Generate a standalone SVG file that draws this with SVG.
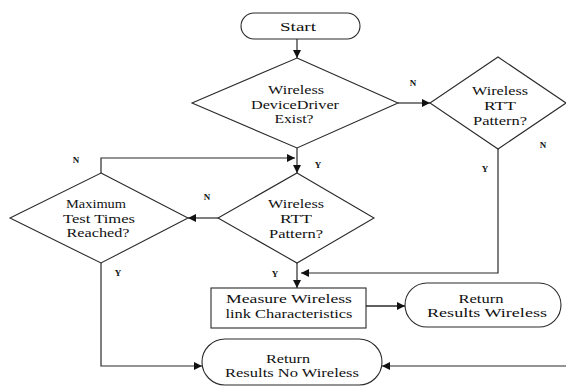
<svg xmlns="http://www.w3.org/2000/svg" width="566" height="387" viewBox="0 0 566 387" font-family="Liberation Serif, Times New Roman, serif">
  <style>
    .shape { fill: #ffffff; stroke: #2a2a2a; stroke-width: 1.1; }
    .edge { fill: none; stroke: #2a2a2a; stroke-width: 1.2; }
    .lbl { font-size: 13px; fill: #111; text-anchor: middle; }
    .yn { font-size: 9px; font-weight: bold; fill: #111; text-anchor: middle; }
  </style>
  <defs>
    <marker id="arrow" viewBox="0 0 10 10" refX="10" refY="5" markerWidth="8" markerHeight="8" markerUnits="userSpaceOnUse" orient="auto">
      <path d="M0,0 L10,5 L0,10 z" fill="#111"/>
    </marker>
  </defs>
  <rect width="566" height="387" fill="#ffffff"/>

  <g id="connectors">
    <path class="edge" d="M297,39 V58" marker-end="url(#arrow)"/>
    <path class="edge" d="M297,148 V173" marker-end="url(#arrow)"/>
    <path class="edge" d="M101,173 V158 H295" marker-end="url(#arrow)"/>
    <path class="edge" d="M398,103 H430" marker-end="url(#arrow)"/>
    <path class="edge" d="M498,149 V273 H301" marker-end="url(#arrow)"/>
    <path class="edge" d="M297,263 V288" marker-end="url(#arrow)"/>
    <path class="edge" d="M218,218 H188" marker-end="url(#arrow)"/>
    <path class="edge" d="M366,306 H405" marker-end="url(#arrow)" style="stroke-width:1.6"/>
    <path class="edge" d="M101,263 V366 H202" marker-end="url(#arrow)"/>
    <path class="edge" d="M566,366 H382" marker-end="url(#arrow)"/>
    <text class="yn" x="318" y="168">Y</text>
    <text class="yn" x="413" y="86">N</text>
    <text class="yn" x="543" y="148">N</text>
    <text class="yn" x="485" y="172">Y</text>
    <text class="yn" x="76" y="163">N</text>
    <text class="yn" x="207" y="200">N</text>
    <text class="yn" x="275" y="277">Y</text>
    <text class="yn" x="118" y="276">Y</text>
  </g>

  <g id="start">
    <rect class="shape" x="241" y="13" width="119" height="26" rx="13" ry="13"/>
    <text class="lbl" x="298" y="31" textLength="36" lengthAdjust="spacingAndGlyphs">Start</text>
  </g>

  <g id="driver-exist">
    <polygon class="shape" points="297,58 398,103 297,148 192,103"/>
    <text class="lbl" x="296" y="94" textLength="56" lengthAdjust="spacingAndGlyphs">Wireless</text>
    <text class="lbl" x="295" y="109" textLength="88" lengthAdjust="spacingAndGlyphs">DeviceDriver</text>
    <text class="lbl" x="294" y="123" textLength="39" lengthAdjust="spacingAndGlyphs">Exist?</text>
  </g>

  <g id="rtt-pattern-right">
    <polygon class="shape" points="498,57 566,103 498,149 430,103"/>
    <text class="lbl" x="500" y="95" textLength="56" lengthAdjust="spacingAndGlyphs">Wireless</text>
    <text class="lbl" x="500" y="110" textLength="32" lengthAdjust="spacingAndGlyphs">RTT</text>
    <text class="lbl" x="500" y="125" textLength="54" lengthAdjust="spacingAndGlyphs">Pattern?</text>
  </g>

  <g id="rtt-pattern">
    <polygon class="shape" points="297,173 374,218 297,263 218,218"/>
    <text class="lbl" x="296" y="208" textLength="56" lengthAdjust="spacingAndGlyphs">Wireless</text>
    <text class="lbl" x="296" y="223" textLength="32" lengthAdjust="spacingAndGlyphs">RTT</text>
    <text class="lbl" x="296" y="238" textLength="54" lengthAdjust="spacingAndGlyphs">Pattern?</text>
  </g>

  <g id="max-tests">
    <polygon class="shape" points="101,173 188,218 101,263 10,218"/>
    <text class="lbl" x="96" y="208" textLength="60" lengthAdjust="spacingAndGlyphs">Maximum</text>
    <text class="lbl" x="99" y="223" textLength="72" lengthAdjust="spacingAndGlyphs">Test Times</text>
    <text class="lbl" x="98" y="237" textLength="63" lengthAdjust="spacingAndGlyphs">Reached?</text>
  </g>

  <g id="measure">
    <rect class="shape" x="211" y="288" width="155" height="40"/>
    <text class="lbl" x="289" y="303" textLength="126" lengthAdjust="spacingAndGlyphs">Measure Wireless</text>
    <text class="lbl" x="289" y="318" textLength="127" lengthAdjust="spacingAndGlyphs">link Characteristics</text>
  </g>

  <g id="return-wireless">
    <rect class="shape" x="405" y="283" width="156" height="44" rx="22" ry="22"/>
    <text class="lbl" x="481" y="303" textLength="45" lengthAdjust="spacingAndGlyphs">Return</text>
    <text class="lbl" x="487" y="317" textLength="120" lengthAdjust="spacingAndGlyphs">Results Wireless</text>
  </g>

  <g id="return-no-wireless">
    <rect class="shape" x="202" y="339" width="180" height="46" rx="23" ry="23"/>
    <text class="lbl" x="288" y="363" textLength="44" lengthAdjust="spacingAndGlyphs">Return</text>
    <text class="lbl" x="292" y="377" textLength="134" lengthAdjust="spacingAndGlyphs">Results No Wireless</text>
  </g>
</svg>
